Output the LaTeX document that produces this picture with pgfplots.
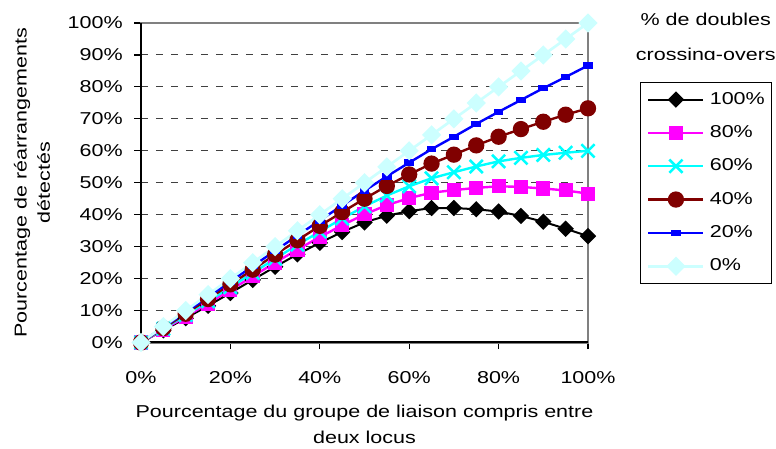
\documentclass[border=0pt]{standalone}
\usepackage{fontspec}
\setmainfont{Liberation Sans}[FakeStretch=1.25]
\usepackage{pgfplots}
\usepackage{pgfplotstable}
\pgfplotsset{compat=1.18}
\definecolor{lcyan}{HTML}{CCFFFF}
\definecolor{dred}{HTML}{800000}
\definecolor{xmag}{HTML}{FF00FF}
\definecolor{xcyan}{HTML}{00FFFF}
\definecolor{xblue}{HTML}{0000FF}
\pgfplotstableread{
x d100 d80 d60 d40 d20 d0
0 0 0 0 0 0 0
5 3.8 4.0 4.3 4.5 4.8 5
10 7.6 8.1 8.6 9.0 9.5 10
15 11.5 12.2 12.9 13.6 14.3 15
20 15.5 16.4 17.3 18.2 19.1 20
25 19.6 20.7 21.8 22.8 23.9 25
30 23.7 25.0 26.2 27.5 28.7 30
35 27.6 29.1 30.6 32.0 33.5 35
40 31.2 33.0 34.7 36.5 38.2 40
45 34.6 36.7 38.8 40.8 42.9 45
50 37.6 40.1 42.6 45.0 47.5 50
55 39.7 43.0 46.0 49.0 52.0 55
60 41.1 45.2 48.9 52.6 56.3 60
65 42.1 46.9 51.4 56.0 60.5 65
70 42.1 47.7 53.3 58.8 64.4 70
75 41.7 48.4 55.1 61.7 68.4 75
80 41.0 48.9 56.7 64.4 72.2 80
85 39.6 48.7 57.8 66.8 75.9 85
90 37.8 48.2 58.7 69.1 79.6 90
95 35.6 47.6 59.4 71.3 83.1 95
100 33.3 46.6 60.0 73.3 86.7 100
}\datatable
\begin{document}
\begin{tikzpicture}[font=\fontsize{12.9}{15}\selectfont]
\path[use as bounding box] (-105.75pt,-79.875pt) rectangle (476.25pt,256.875pt);
\begin{axis}[
  at={(0,0)}, anchor=south west,
  scale only axis, width=335.25pt, height=239.6pt,
  xmin=0, xmax=100, ymin=0, ymax=100,
  clip=false,
  xtick={0,20,40,60,80,100},
  xticklabels={0\%,20\%,40\%,60\%,80\%,100\%},
  ytick={0,10,...,100},
  yticklabels={0\%,10\%,20\%,30\%,40\%,50\%,60\%,70\%,80\%,90\%,100\%},
  xtick pos=left, ytick pos=left,
  tick align=outside, major tick length=5pt,
  tick style={black, line width=0.8pt},
  x tick label style={anchor=base, inner sep=0pt, yshift=-25.5pt},
  y tick label style={anchor=east, inner sep=0pt, xshift=-8.5pt},
  ymajorgrids,
  major grid style={black!75, line width=0.75pt, dash pattern=on 5.25pt off 6pt},
  axis line style={draw=black!50, line width=1.8pt},
  legend style={at={(1.1163,0.8163)}, anchor=north west, draw=black, line width=0.75pt,
    inner xsep=5pt, inner ysep=7pt, row sep=13pt, column sep=3.75pt,
    nodes={inner sep=0pt, text height=9.5pt, text depth=2.5pt, anchor=west},
    font=\fontsize{12.9}{15}\selectfont},
  legend cell align=left,
  legend image code/.code={\draw[mark repeat=2,mark phase=2,#1] plot coordinates {(0pt,0pt) (20.6pt,0pt) (41.25pt,0pt)};},
]
\draw[black, line width=1.5pt] (rel axis cs:0,1) -- (rel axis cs:0,0) -- (rel axis cs:1,0);
\addplot[black, line width=1.5pt, mark=square*, mark size=3.6pt, mark options={rotate=45, solid, fill=black}] table[x=x, y=d100] {\datatable};
\addlegendentry{100\%}
\addplot[xmag, line width=1.8pt, mark=square*, mark size=4.4pt, mark options={solid, fill=xmag}] table[x=x, y=d80] {\datatable};
\addlegendentry{80\%}
\addplot[xcyan, line width=1.8pt, mark=x, mark size=7pt, mark options={solid, line width=1.9pt}] table[x=x, y=d60] {\datatable};
\addlegendentry{60\%}
\addplot[dred, line width=1.8pt, mark=*, mark size=5.2pt, mark options={solid, fill=dred}] table[x=x, y=d40] {\datatable};
\addlegendentry{40\%}
\addplot[xblue, line width=1.8pt, mark=square*, mark size=1.5pt, mark options={solid, fill=xblue, xscale=1.8}] table[x=x, y=d20] {\datatable};
\addlegendentry{20\%}
\addplot[lcyan, line width=2pt, mark=square*, mark size=4.1pt, mark options={rotate=45, solid, fill=lcyan}] table[x=x, y=d0] {\datatable};
\addlegendentry{0\%}
\path (axis description cs:0.5,0) ++(0,-55.9pt) node[anchor=base] {Pourcentage du groupe de liaison compris entre};
\path (axis description cs:0.5,0) ++(0,-75.6pt) node[anchor=base] {deux locus};
\path (axis description cs:0,0.5) ++(-85.7pt,0) node[rotate=90, anchor=base] {Pourcentage de réarrangements};
\path (axis description cs:0,0.5) ++(-68.25pt,0) node[rotate=90, anchor=base] {détectés};
\end{axis}
\node[anchor=base] at (423.6pt,238.1pt) {\% de doubles};
\begin{scope}
\clip (300pt,212.6pt) rectangle (480pt,230pt);
\node[anchor=base] at (423.6pt,211.5pt) {crossing-overs};
\end{scope}
\end{tikzpicture}
\end{document}
